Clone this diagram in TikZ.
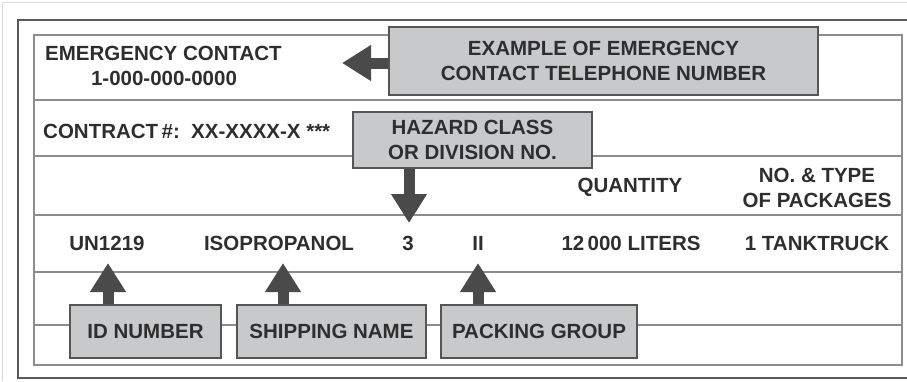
\documentclass[tikz,border=0pt]{standalone}
\usepackage{fontspec}
\setmainfont{Liberation Sans}
\usetikzlibrary{arrows.meta}
\definecolor{boxfill}{HTML}{C8C9CB}
\definecolor{boxline}{HTML}{555555}
\definecolor{arrowc}{HTML}{4A4A4A}
\definecolor{tline}{HTML}{8C8C8C}
\definecolor{outerc}{HTML}{5A5A5A}
\definecolor{txt}{HTML}{2E2E2E}
\begin{document}
\begin{tikzpicture}[x=1pt,y=-1pt,
  lbl/.style={font=\fontsize{20.5}{25}\selectfont\bfseries, text=txt, inner sep=0pt, align=center},
  callout/.style={lbl, draw=boxline, fill=boxfill, line width=1.5pt},
  fat/.style={draw=arrowc, line width=11pt, -{Triangle[length=29pt,width=34pt]}, color=arrowc},
  tablerule/.style={draw=tline, line width=1.5pt}]
\useasboundingbox (0,0) rectangle (907,381);
% faint page border
\draw[draw=black!15, line width=1pt] (2,381) -- (2,2) -- (907,2);
% outer frame
\draw[draw=outerc, line width=1.6pt] (907,20) -| (18,378) -- (907,378);
% inner table
\draw[tablerule] (34,35) rectangle (902,365);
\foreach \yy in {100,156,215,272,325} \draw[tablerule] (34,\yy) -- (902,\yy);
% texts
\node[lbl, anchor=west] (emtitle) at (45,53) {EMERGENCY CONTACT};
\node[lbl] (emnum) at (164,78) {1-000-000-0000};
\node[lbl, anchor=west] (contract) at (43,131) {CONTRACT\,\#:\ \ XX-XXXX-X ***};
\node[lbl] (qty) at (630,187) {QUANTITY};
\node[lbl] (pkg) at (817,188) {NO. \& TYPE\\OF PACKAGES};
\node[lbl] (un) at (107,243) {UN1219};
\node[lbl] (iso) at (279,243) {ISOPROPANOL};
\node[lbl] (cls) at (408,243) {3};
\node[lbl] (pg) at (478,243) {II};
\node[lbl] (lit) at (631,243) {12\,000 LITERS};
\node[lbl] (tank) at (817,243) {1 TANKTRUCK};
% callout boxes
\node[callout, minimum width=429pt, minimum height=68pt] (exbox) at (603.5,61) {EXAMPLE OF EMERGENCY\\CONTACT TELEPHONE NUMBER};
\node[callout, minimum width=239pt, minimum height=56pt] (hzbox) at (472.5,140) {HAZARD CLASS\\OR DIVISION NO.};
\node[callout, minimum width=151pt, minimum height=53pt] (idbox) at (145.5,331.5) {ID NUMBER};
\node[callout, minimum width=189pt, minimum height=53pt] (shbox) at (331.5,331.5) {SHIPPING NAME};
\node[callout, minimum width=196pt, minimum height=53pt] (pkbox) at (539,331.5) {PACKING GROUP};
% arrow tips
\coordinate (extip) at (342,63);
\coordinate (hztip) at (409,223);
\coordinate (idtip) at (108,263);
\coordinate (shtip) at (283,263);
\coordinate (pktip) at (478,263);
% arrows
\draw[fat] (exbox.west |- extip) -- (extip);
\draw[fat] (hzbox.south -| hztip) -- (hztip);
\draw[fat] (idbox.north -| idtip) -- (idtip);
\draw[fat] (shbox.north -| shtip) -- (shtip);
\draw[fat] (pkbox.north -| pktip) -- (pktip);
\end{tikzpicture}
\end{document}
